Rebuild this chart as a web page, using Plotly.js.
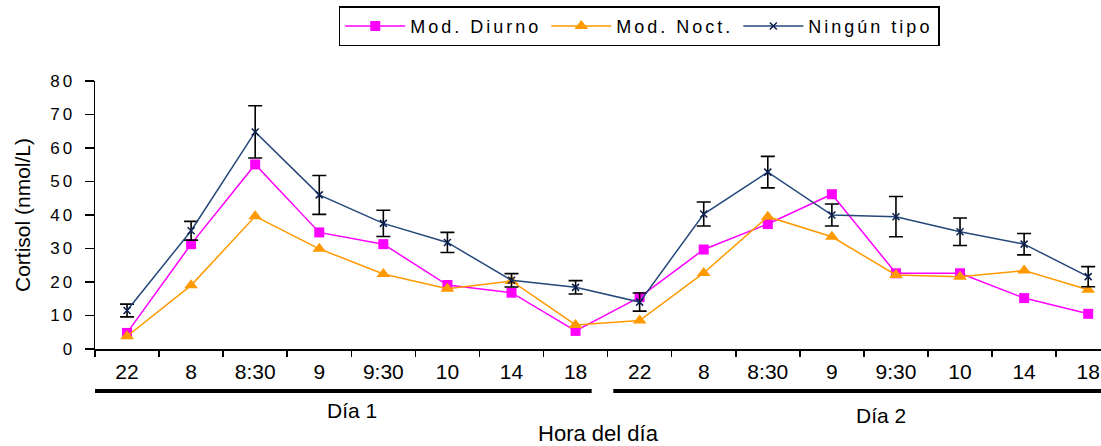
<!DOCTYPE html>
<html>
<head>
<meta charset="utf-8">
<script src="https://cdn.plot.ly/plotly-3.0.1.min.js"></script>
<style>
  html, body { margin: 0; padding: 0; background: #fff; }
  #chart { width: 1101px; height: 446px; }
  .legendtext { letter-spacing: 3px; }
  .ytick text { letter-spacing: 3px; }
</style>
</head>
<body>
<div id="chart"></div>
<script>
// Tick labels (hour of day), two days
const hourLabels = ["22","8","8:30","9","9:30","10","14","18","22","8","8:30","9","9:30","10","14","18"];
const dayLabels = ["Día 1", "Día 2"];

// Cortisol (nmol/L)
const modDiurno = [4.8, 31.3, 55.1, 34.8, 31.3, 19.1, 16.8, 5.4, 15.5, 29.7, 37.3, 46.2, 22.6, 22.6, 15.2, 10.5];
const modNoct   = [3.8, 19.0, 39.6, 29.9, 22.4, 18.0, 20.3, 7.2, 8.5, 22.7, 39.5, 33.5, 22.1, 21.6, 23.4, 17.7];
const ningunTipo = [11.5, 35.3, 64.8, 46.0, 37.5, 31.8, 20.5, 18.4, 14.0, 40.3, 52.8, 40.0, 39.5, 35.0, 31.3, 21.6];
const ningunErr  = [1.9, 2.8, 7.8, 5.8, 3.9, 3.0, 2.0, 2.0, 2.7, 3.6, 4.7, 3.3, 6.0, 4.1, 3.2, 3.0];

const xs = hourLabels.map((_, i) => i);
const FONT = "Arial, 'Liberation Sans', sans-serif";

const traces = [
  {
    name: "Mod. Diurno", x: xs, y: modDiurno, type: "scatter", mode: "lines+markers",
    line: { color: "#FF00FF", width: 1.5 },
    marker: { symbol: "square", size: 10, color: "#FF00FF" }
  },
  {
    name: "Mod. Noct.", x: xs, y: modNoct, type: "scatter", mode: "lines+markers",
    line: { color: "#FF9900", width: 1.5 },
    marker: { symbol: "triangle-up", size: 12, color: "#FF9900" }
  },
  {
    name: "Ningún tipo", x: xs, y: ningunTipo, type: "scatter", mode: "lines+markers",
    line: { color: "#24477A", width: 1.5 },
    marker: { symbol: "x-thin-open", size: 7, color: "#0B1F4F", line: { width: 1.5, color: "#0B1F4F" } },
    error_y: { type: "data", array: ningunErr, visible: true, color: "#000000", thickness: 1.6, width: 7 }
  }
];

const layout = {
  width: 1101, height: 446,
  margin: { l: 95, r: 0, t: 81, b: 97, pad: 0 },
  paper_bgcolor: "#ffffff", plot_bgcolor: "#ffffff",
  font: { family: FONT, color: "#000000" },
  showlegend: true,
  legend: {
    orientation: "h", x: 0.541, xanchor: "center", y: 1.279, yanchor: "top",
    bordercolor: "#000000", borderwidth: 1.5, bgcolor: "#ffffff",
    font: { family: FONT, size: 18, color: "#000000" },
    itemwidth: 60
  },
  xaxis: {
    range: [-0.5, 15.2], autorange: false,
    tickmode: "array", tickvals: xs, ticktext: hourLabels,
    ticks: "", tickfont: { family: FONT, size: 21, color: "#000000" },
    ticklabelstandoff: 3,
    showline: true, linecolor: "#000000", linewidth: 1.5,
    showgrid: false, zeroline: false,
    minor: { ticks: "outside", ticklen: 6, tickwidth: 1.5, tickcolor: "#000000", tick0: 0.5, dtick: 1, showgrid: false },
    title: { text: "Hora del día", font: { family: FONT, size: 22, color: "#000000" }, standoff: 46 }
  },
  yaxis: {
    range: [0, 80], autorange: false, dtick: 10, tick0: 0,
    ticks: "outside", ticklen: 9, tickwidth: 1.5, tickcolor: "#000000",
    tickfont: { family: FONT, size: 17, color: "#000000" },
    ticklabelstandoff: 6,
    showline: true, linecolor: "#000000", linewidth: 1.5,
    showgrid: false, zeroline: false,
    title: { text: "Cortisol (nmol/L)", font: { family: FONT, size: 21, color: "#000000" }, standoff: 14 }
  },
  shapes: [
    { type: "line", xref: "paper", yref: "paper", x0: 0, x1: 0.4937, y0: -0.157, y1: -0.157, line: { color: "#000000", width: 4 } },
    { type: "line", xref: "paper", yref: "paper", x0: 0.5152, x1: 1.0, y0: -0.157, y1: -0.157, line: { color: "#000000", width: 4 } }
  ],
  annotations: [
    { text: dayLabels[0], xref: "paper", yref: "paper", x: 0.2552, y: -0.2313, xanchor: "center", yanchor: "middle", showarrow: false, font: { family: FONT, size: 21, color: "#000000" } },
    { text: dayLabels[1], xref: "paper", yref: "paper", x: 0.781, y: -0.2474, xanchor: "center", yanchor: "middle", showarrow: false, font: { family: FONT, size: 21, color: "#000000" } }
  ]
};

Plotly.newPlot("chart", traces, layout, { displayModeBar: false, staticPlot: true });
</script>
</body>
</html>
